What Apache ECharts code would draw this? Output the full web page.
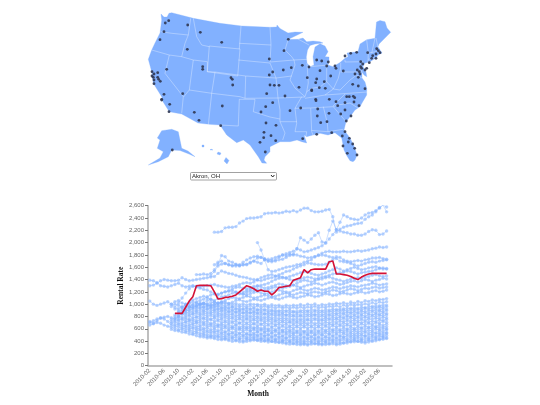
<!DOCTYPE html>
<html><head><meta charset="utf-8">
<style>html,body{margin:0;padding:0;background:#fff}#c{width:540px;height:405px}</style>
<script src="https://cdn.jsdelivr.net/npm/echarts@6/dist/echarts.min.js"></script>
</head><body><div id="c"></div>
<script>
const _ = null;
const months = ['2010-02','2010-03','2010-04','2010-05','2010-06','2010-07','2010-08','2010-09','2010-10','2010-11','2010-12','2011-01','2011-02','2011-03','2011-04','2011-05','2011-06','2011-07','2011-08','2011-09','2011-10','2011-11','2011-12','2012-01','2012-02','2012-03','2012-04','2012-05','2012-06','2012-07','2012-08','2012-09','2012-10','2012-11','2012-12','2013-01','2013-02','2013-03','2013-04','2013-05','2013-06','2013-07','2013-08','2013-09','2013-10','2013-11','2013-12','2014-01','2014-02','2014-03','2014-04','2014-05','2014-06','2014-07','2014-08','2014-09','2014-10','2014-11','2014-12','2015-01','2015-02','2015-03','2015-04','2015-05','2015-06','2015-07','2015-08','2015-09'];
const selected = 'Akron, OH';
const akron = [_,_,_,_,_,_,_,850,850,850,950,1050,1120,1300,1305,1305,1305,1300,1200,1085,1090,1110,1115,1130,1150,1200,1250,1300,1280,1250,1210,1230,1210,1210,1150,1200,1270,1280,1290,1300,1390,1410,1430,1560,1510,1560,1570,1570,1570,1570,1690,1700,1490,1490,1480,1470,1450,1420,1400,1440,1470,1490,1500,1500,1500,1500,1500];

const u01 = [_,_,_,_,_,_,_,_,_,_,_,_,_,_,_,_,_,_,2170,2170,2180,2240,2250,2250,2260,2320,2350,2390,2400,2400,2410,2420,2470,2480,2480,2490,2480,2490,2510,2500,2520,2500,2530,2560,2560,2520,2500,2500,2510,2530,2540,2420,2170,2220,2250,2270,2280,2300,2310,2320,2380,2420,2450,2500,2560,2610,2580];
const u02 = [_,_,_,_,_,_,_,_,_,_,_,_,_,1480,1480,1490,1480,1500,1560,1650,1790,1770,1700,1680,1650,1630,1640,1640,1670,1700,1680,1660,1720,1730,1710,1720,1760,1800,1790,1810,1800,1900,2080,2040,2000,2060,2120,2160,2010,2000,2200,2350,2210,2330,2450,2420,2390,2380,2370,2400,2450,2480,2490,2520,2570,2610,2500];
const u03 = [_,_,_,_,_,_,_,_,_,_,_,_,_,_,_,_,_,_,1640,1680,1700,1660,1640,1620,1640,1620,1640,1650,1680,1700,1750,1760,1740,1700,1740,1760,1780,1800,1820,1840,1860,1900,1880,1850,1860,1880,1900,1920,1950,1990,2060,2130,2210,2190,2170,2160,2140,2140,2120,2120,2140,2180,2210,2200,2130,2140,2190];
const u04 = [_,_,_,_,_,_,_,_,_,_,_,_,_,_,_,_,_,_,_,_,_,_,_,_,_,_,_,_,_,_,2000,1880,1720,1560,1530,1540,1560,1580,1600,1610,1620,1640,1650,1680,1700,1720,1770,1800,1830,1850,1860,1850,1850,1850,1860,1850,1850,1860,1870,1860,1870,1880,1900,1910,1930,1920,1930];
const u05 = [1300,1310,1340,1380,1400,1390,1380,1380,1390,1430,1400,1380,1390,1400,1410,1420,1430,1440,1450,1500,1540,1520,1500,1490,1470,1450,1440,1430,1410,1400,1390,1380,1400,1420,1430,1450,1480,1500,1530,1540,1570,1600,1620,1640,1670,1660,1650,1640,1640,1650,1680,1720,1770,1760,1720,1700,1690,1700,1710,1700,1720,1730,1750,1750,1760,1740,1730];
const u06 = [_,_,_,_,_,_,_,_,_,_,_,_,_,_,_,_,_,1460,1530,1620,1650,1660,1640,1630,1620,1640,1680,1720,1750,1770,1780,1760,1730,1700,1690,1700,1720,1730,1760,1790,1810,1800,1780,1770,1750,1760,1770,1790,1800,1790,1770,1760,1740,1700,1690,1680,1660,1640,1620,1640,1660,1680,1690,1680,1700,1710,1720];
const u07 = [1390,1380,1350,1300,1290,1280,1300,1320,1340,1300,1280,1290,1300,1290,1280,1290,1300,1310,1320,1300,1290,1280,1270,1290,1300,1320,1340,1350,1340,1360,1400,1430,1450,1470,1480,1460,1450,1440,1430,1450,1470,1490,1510,1530,1520,1500,1480,1470,1490,1510,1540,1560,1590,1570,1540,1560,1580,1600,1580,1560,1570,1590,1600,1610,1590,1570,1580];
const u08 = [_,_,_,_,_,_,_,_,_,_,_,_,_,_,_,_,_,_,_,_,_,_,_,_,_,_,1200,1220,1240,1260,1290,1310,1320,1340,1370,1400,1420,1430,1420,1400,1380,1390,1410,1430,1440,1430,1410,1420,1440,1450,1470,1490,1500,1510,1520,1540,1530,1510,1490,1510,1520,1530,1540,1560,1580,1590,1570];
const u09 = [1050,1000,980,1000,1020,1040,1000,950,1020,1100,1180,1250,1290,1280,1260,1240,1230,1200,1170,1150,1180,1200,1220,1250,1270,1280,1260,1250,1270,1290,1300,1280,1260,1270,1290,1310,1330,1320,1300,1290,1310,1340,1370,1390,1380,1360,1380,1400,1410,1430,1440,1420,1400,1390,1370,1390,1410,1420,1430,1420,1440,1450,1470,1480,1460,1450,1460];
const u10 = [720,690,730,770,790,800,780,760,800,850,900,950,1000,1040,1060,1080,1120,1150,1170,1160,1180,1200,1210,1220,1200,1180,1170,1190,1210,1220,1240,1230,1220,1240,1260,1280,1270,1260,1280,1300,1310,1290,1270,1290,1310,1320,1340,1330,1310,1330,1350,1360,1340,1320,1330,1350,1370,1380,1360,1380,1400,1390,1370,1390,1400,1420,1410];
const m01 = [_,_,_,_,_,_,1000,1040,1060,1020,1000,1030,1070,1090,1110,1130,1100,1080,1060,1090,1120,1130,1150,1180,1190,1170,1160,1150,1170,1190,1200,1180,1170,1180,1200,1220,1230,1210,1200,1190,1220,1240,1250,1230,1220,1240,1260,1250,1230,1240,1260,1280,1270,1250,1270,1280,1300,1290,1280,1300,1310,1320,1340,1330,1310,1320,1330];
const m02 = [_,_,_,_,_,_,960,1000,980,950,1000,1010,1040,1020,1000,1020,1060,1080,1040,1010,1030,1060,1090,1110,1100,1090,1110,1130,1120,1100,1110,1130,1150,1140,1120,1130,1150,1170,1180,1160,1150,1170,1190,1180,1170,1190,1200,1190,1180,1200,1210,1230,1220,1200,1210,1230,1250,1240,1220,1240,1260,1250,1270,1280,1260,1270,1280];
const m03 = [_,_,_,_,_,_,_,920,930,960,980,960,940,970,1000,1010,990,970,990,1020,1040,1030,1010,1030,1060,1070,1050,1040,1060,1080,1070,1060,1080,1100,1110,1090,1080,1100,1120,1130,1110,1100,1120,1130,1150,1140,1120,1130,1150,1170,1160,1140,1150,1170,1180,1170,1160,1180,1190,1200,1180,1190,1210,1220,1200,1210,1230];
const b01 = [_,_,_,_,_,_,590,570,565,545,540,515,505,485,470,465,450,455,440,425,420,425,410,395,405,390,385,395,405,415,410,395,400,385,395,380,375,370,355,350,355,345,340,345,335,350,355,345,340,345,350,355,340,350,365,370,385,390,395,380,370,385,395,405,420,430,440];
const b02 = [660,680,700,690,660,640,625,605,585,585,565,555,525,525,500,495,475,475,465,465,445,445,435,435,415,425,405,425,425,435,415,425,405,415,395,405,385,395,375,385,365,375,365,365,355,375,365,365,355,375,365,385,365,375,375,395,395,415,395,405,395,415,415,435,435,455,455];
const b03 = [700,730,760,780,760,720,660,640,630,610,600,585,560,550,530,520,505,495,495,480,480,470,470,455,460,440,450,445,460,455,450,435,440,425,435,420,420,405,415,395,405,395,395,385,395,395,405,385,395,395,405,405,400,405,420,415,430,435,435,425,435,435,455,455,475,475,490];
const b04 = [_,_,_,_,_,_,690,665,665,640,635,610,605,580,575,550,545,530,535,510,515,500,505,480,495,470,485,470,495,480,485,460,475,450,465,440,455,430,445,420,435,420,425,410,435,420,435,410,425,420,435,430,435,430,455,440,465,460,465,450,475,460,485,480,505,500,525];
const b05 = [_,_,_,_,_,_,715,705,690,670,660,640,630,610,600,585,570,560,560,550,540,535,520,525,510,515,500,510,510,510,500,500,490,495,480,485,470,470,460,465,460,450,455,450,450,460,450,450,450,460,460,470,460,470,470,480,490,490,490,490,490,500,510,520,530,530,540];
const b06 = [_,_,_,_,_,_,750,730,730,700,700,670,665,640,635,610,610,590,595,575,580,555,565,545,550,530,545,525,555,530,545,520,535,510,525,500,515,490,505,490,495,480,495,470,495,480,495,470,495,480,505,490,505,490,515,510,525,520,525,520,535,530,545,540,565,560,585];
const b07 = [_,_,_,_,_,_,_,765,750,745,720,715,690,690,660,660,640,640,620,630,610,610,590,600,580,585,570,580,570,580,560,570,550,560,540,550,530,540,530,530,520,530,510,520,510,530,510,520,510,530,520,540,530,540,540,550,550,560,550,560,560,570,570,590,590,600,600];
const b08 = [_,_,_,_,_,_,_,795,785,765,755,740,725,710,700,685,675,670,655,650,645,635,625,620,615,605,605,610,605,600,595,590,585,580,575,570,565,565,555,560,545,550,545,550,545,550,545,550,545,560,555,570,565,570,575,580,585,590,585,600,595,610,605,620,625,630,635];
const b09 = [_,_,_,_,_,_,_,825,815,790,785,760,755,735,735,710,715,690,695,670,675,660,665,640,655,630,635,630,635,620,625,610,615,600,615,590,605,580,595,580,585,570,585,560,585,570,585,570,585,580,595,590,605,590,615,600,625,610,625,620,635,630,645,640,665,660,675];
const b10 = [_,_,_,_,_,_,_,_,850,835,815,805,785,780,765,760,745,745,725,725,705,705,695,695,675,685,665,675,665,675,655,665,645,655,635,645,625,635,625,625,615,625,615,625,615,625,615,625,615,635,625,645,635,645,645,655,655,665,655,675,665,685,675,695,695,715,705];
const b11 = [_,_,_,_,_,_,_,_,875,855,850,830,830,800,800,780,780,760,770,750,750,730,730,720,720,700,710,700,710,690,700,680,690,680,680,670,670,660,670,650,660,650,660,650,660,650,660,650,660,660,670,670,680,670,690,680,700,690,700,700,710,710,720,720,740,740,750];
const b12 = [_,_,_,_,_,_,_,_,895,885,870,865,850,845,830,825,810,810,795,795,780,775,765,765,750,755,740,750,740,740,730,730,720,725,710,715,700,705,700,700,690,695,690,690,690,695,690,690,690,700,700,710,710,715,720,725,730,735,730,745,740,755,760,765,770,785,780];
const b13 = [_,_,_,_,_,_,_,_,_,915,900,895,875,875,855,855,845,840,825,825,815,805,800,790,790,780,780,770,780,760,770,755,760,750,750,740,740,730,740,720,730,720,730,720,740,725,745,725,735,735,745,745,755,745,765,755,775,765,775,775,785,785,805,795,815,815,825];
const b14 = [_,_,_,_,_,_,_,_,_,940,930,915,910,895,890,885,875,865,865,850,845,835,835,825,820,815,810,805,810,795,800,785,790,785,780,775,770,765,770,755,760,755,760,755,760,760,770,755,760,770,770,780,780,785,790,795,800,805,800,815,810,825,830,835,840,855,850];
const b15 = [_,_,_,_,_,_,_,_,_,_,960,945,940,925,925,905,915,895,895,880,885,865,875,850,865,845,855,835,855,830,845,820,835,815,825,810,815,800,815,795,805,790,805,790,805,800,815,790,805,800,815,810,825,810,835,820,845,830,845,840,855,850,875,860,885,880,895];
const b16 = [_,_,_,_,_,_,_,_,_,_,_,975,965,955,945,945,930,930,915,915,905,900,885,890,875,880,865,870,865,865,860,855,850,850,845,840,840,835,830,830,825,825,825,825,835,830,835,825,830,835,840,845,850,850,860,860,870,870,870,880,880,890,900,900,910,920,920];
const b17 = [_,_,_,_,_,_,_,_,_,_,_,_,985,975,975,955,960,945,945,930,935,920,925,905,915,900,910,890,910,885,900,880,895,875,885,870,875,860,875,860,870,855,870,860,875,865,880,860,870,870,880,880,890,885,900,890,910,900,910,910,925,920,940,935,950,950,960];
const b18 = [_,_,_,_,_,_,_,_,_,_,_,_,_,1005,995,995,980,975,965,965,950,950,940,945,935,925,925,925,925,925,915,915,915,905,905,895,895,895,895,895,885,885,895,895,895,905,905,895,895,905,905,915,915,915,925,925,935,935,935,945,945,955,965,965,975,985,985];
const b19 = [_,_,_,_,_,_,_,_,_,_,_,_,_,_,1020,1010,1010,995,1000,980,990,970,980,960,975,960,970,950,975,950,970,950,965,945,955,935,955,935,950,930,950,935,955,935,955,945,965,935,955,945,965,955,975,955,985,965,995,975,995,985,1005,995,1025,1005,1035,1025,1040];
const b20 = [_,_,_,_,_,_,_,_,_,_,_,_,_,_,_,_,_,1030,1030,1015,1020,1005,1010,995,1010,990,1005,985,1005,995,995,985,1000,975,990,975,985,965,985,970,985,975,995,975,1000,985,1005,975,995,985,1005,995,1015,1005,1025,1005,1035,1015,1045,1025,1055,1045,1070,1055,1075,1075,1090];
const lightSeries = [u01,u02,u03,u04,u05,u06,u07,u08,u09,u10,m01,m02,m03,b01,b02,b03,b04,b05,b06,b07,b08,b09,b10,b11,b12,b13,b14,b15,b16,b17,b18,b19,b20];

const mainland = [[161,14],[164,17],[167,17],[169,13.3],[171.7,12.7],[193.3,18.3],[220,23.3],[241.7,26],[270,27.3],[276.7,27],[277,25],[280,28.5],[288,33],[295,32],[303,32.3],[288,39.5],[298,39.3],[303,38],[306.7,41.7],[313,41],[320,41.7],[323,43],[315,44],[310,45.5],[307.5,50],[306.3,57],[307,63],[310,66.7],[314,65],[313,56.7],[315,47],[320,43.8],[325,46],[328,51.7],[325,56.7],[329,57],[329,61],[328,65],[333,66.7],[340,62.5],[345,58.3],[348,56.7],[347,53],[351,52.5],[358,51.7],[360,44],[366.7,39.7],[375,38.3],[376.5,22],[380,20.5],[385,21.7],[387,28],[390.7,32.3],[383,40],[379,44],[378,46.7],[380,50],[382,53],[378,55],[376,58],[370,61.7],[365,63],[363,66.7],[366,72],[366.7,76.7],[364,75],[362,72],[362,78],[365,82],[366.7,88.3],[366.7,95],[362,103],[360,106.7],[355,110],[350,116.7],[346,121.7],[344,130],[350,138],[354,146],[357,155],[355,160],[353,161.7],[350,160.7],[347,156],[344,150],[341.7,138],[335,132.7],[328,135],[320,133.3],[313,135],[306.7,136.7],[304,135],[306.7,143],[301.7,141.7],[297,140],[290,141.7],[280,141.7],[270,146.7],[270,151.7],[265,156.7],[264,160],[266.7,163.3],[262,163],[258.3,156.7],[250,145],[243.3,140],[236.7,142.7],[226.7,135],[220,125],[209,124.3],[198,123],[181.7,114],[169.3,111.7],[163,101.7],[161.7,96.7],[153.3,83.3],[151.7,71.7],[148.3,59.3],[151.7,50],[155,43],[160,33],[161.7,20]];
const alaska = [[161.7,130.7],[171.7,129.3],[178.3,131.7],[181.7,148.3],[188,151],[195,156.7],[189,154],[180,150.5],[171.7,150],[168.3,156.7],[158.3,161.7],[148.3,165],[160,158],[163.3,151.7],[157.3,148.3],[160,140],[157.3,138]];
const hawaii = [[226,157.5],[229,160.5],[227,164],[224,161]];
const hawaiiSmall = [[218,152],[221,153],[220,155],[217,154]];
const oahu = [[211,149],[213,150],[212,151],[210,150]];
const kauai = [[202,145],[204,145],[204,147],[202,147]];

const borders = [
 [[160.7,31.7],[171.7,33.3],[188.3,35]],[[190.7,18.3],[188.3,35],[185,43.3],[181.7,56.7]],
 [[151.7,50],[169.3,55],[181.7,56.7],[193.3,60],[207.3,61.7]],[[169.3,55],[165,73.3],[183.3,96.7],[181.7,113.3]],
 [[193.3,60],[189.3,90],[183.5,97]],[[189.3,90],[211.7,93.3],[240,96.7],[245,98.3],[278,98],[305,97]],
 [[193.3,18.3],[196.7,36.7],[201.7,45],[209.3,46.7]],[[209.3,46],[240,49],[237.7,76],[207.3,71.7],[209.3,46]],
 [[207.3,61.7],[207.3,71.7],[215,72],[211.7,93.3],[208.3,125]],[[215,72],[245.7,76],[245,98.3]],
 [[241,26],[239.3,49]],[[239.3,43.3],[271,45]],[[238.3,60],[270,63],[276,78]],[[245.7,76],[276,78],[278,98]],
 [[270,27.3],[271,45],[270,62],[294,60]],[[276,78],[291.7,76]],[[288,40],[285,50],[291.7,56.7],[294,60],[295,65],[291.7,75],[290,80],[295,88],[305,96.7]],
 [[294,60],[307.3,59.3]],[[298,39],[309,45]],[[307,63],[308.3,83],[306.7,91.7],[305,96.7]],[[310,66.7],[328,65]],
 [[326.7,65],[326.7,81.7],[320,87],[311.7,88.3],[306.7,91.7]],[[326.7,81.7],[333.3,89],[338.3,78.3],[340.7,68.3],[340.7,63]],
 [[345,60],[345,62],[363.3,61.7]],[[340.7,72],[362,72]],[[363,62],[361,68],[362,72]],[[333.3,89],[340,90],[350,80],[356.7,75],[362,78]],
 [[333.3,89],[325,95],[305,98.3]],[[325,95],[367,92]],[[295,108.3],[310,108],[333.3,106.7],[338,105],[350,103],[358,108]],
 [[345,94],[333,106]],[[301.7,96.7],[295,108.3],[296.7,123.3],[295,131.7],[306.7,131.7],[306,136]],[[280,121.7],[296.7,121.7]],
 [[278,98],[280,110],[280,121.7],[285,133],[282.7,140]],[[310.7,108.3],[311.7,131.7],[313,135]],[[323.3,106.7],[327.3,123],[328,131.7]],
 [[311.7,130.5],[328,131.7],[343.3,129.3]],[[333.3,106.7],[346,121.7]],[[239.3,99.3],[255,99.3],[253.3,111.7],[270,117],[280,119]],
 [[239.3,99.3],[238.3,126],[220,125]],[[366.7,40],[368.3,53],[368,62]],[[375,38.3],[371.7,53.3]],[[376,38],[378,48]],[[368,53],[380,51]],[[368.3,59.3],[376,57.7]],[[373,58],[373,62]]
];

const metroPoints = [[168.7,20.7],[165.3,23],[187.7,25],[200.3,32.3],[164,31.7],[160,39.7],[221.7,42.3],[187.3,49.3],[269.3,59],[202.7,66.7],[202.7,69.3],[166.7,69.3],[152,71.7],[157.7,72.7],[154,74],[152,76],[153.3,77.3],[157.7,77.3],[158.7,79.3],[154,80],[160.3,81.3],[154,83.7],[231,77.7],[232.3,79.3],[232.7,85],[269.3,75],[164,94.3],[182.7,93.7],[266.7,93.7],[161.7,99.3],
[288.3,39.3],[284,50.7],[316.7,60],[321.7,61],[328.3,62],[326.7,66],[335,66],[336,68.3],[345,56],[350.7,53.3],[356.7,52.3],[367.7,52.7],[376.7,48.7],[378.3,50.7],[380,52.7],[376,54],[372.7,55.7],[371.7,58.3],[376,58.3],[369.3,62.7],[360.7,61.7],[362.7,64],[360.7,66.7],[366.7,68.3],[365,70],[361.7,68.3],[357.3,70],[359.3,71.7],[355,74],[360,74],[358.3,77.3],[343.3,71],[302.3,65.3],[309,67],[291.3,67.7],[283.3,70],[272.7,72],[320,70.7],[330.7,76],[307.3,77.7],[316.7,79],[315.7,82.7],[324.3,81.7],[299,87.3],[319.3,87.7],[325.3,88.3],[311.7,90],[352.7,84.3],[358.3,86],[365,88.7],[270,85],[274.3,85.3],[279,85.3],[285,96],[346.7,96.7],[349.3,96.7],[353.3,96.3],[354.7,97.7],[315.7,99.3],[329.3,99.3],
[161.7,100],[169.7,104.3],[169,111.7],[194.3,112.3],[199,120.3],[222.3,106],[220.7,125.7],[265.7,106.7],[261,112],[266,123],[264,132.3],[263.7,137.7],[260,142.3],[265.3,152],[172.3,150],
[272.7,102.7],[290,110.7],[276,125.3],[271,135.7],[275.7,140.7],[302.7,138.7],[300.7,108],[316,100.7],[336,101.7],[345,102.7],[354,102],[359,105.7],[337.7,105.7],[345,110],[340.7,114],[351,116],[346.3,121],[317.7,109],[317.3,116],[329,113.3],[320.7,122.7],[327,121.7],[316.7,134.3],[331.7,132.7],[345,131.7],[342.3,136],[349.3,138.3],[348.3,142],[352.7,144],[343,146],[354.7,148.3],[347.3,153.3],[357,155],[311.7,90.7]];

const flip = a => a.map(p => [p[0], -p[1]]);
const land = [mainland, alaska, hawaii, hawaiiSmall, oahu, kauai];
echarts.registerMap('usa', {type:'FeatureCollection', features: land.map((r,i)=>({type:'Feature',properties:{name:'r'+i},geometry:{type:'Polygon',coordinates:[flip(r)]}}))});

const chart = echarts.init(document.getElementById('c'), null, {renderer:'canvas'});
const blue = '#82b1ff';
const series = [
 {type:'lines',coordinateSystem:'geo',geoIndex:0,polyline:true,silent:true,z:3,lineStyle:{color:'#ffffff',width:0.5,opacity:0.65},data:borders.map(b=>({coords:flip(b)}))},
 {type:'scatter',coordinateSystem:'geo',geoIndex:0,silent:true,z:4,symbolSize:2.8,itemStyle:{color:'#2f3650',opacity:0.9},data:flip(metroPoints)}
];
lightSeries.forEach(d=>series.push({type:'line',data:d,xAxisIndex:0,yAxisIndex:0,silent:true,z:2,symbol:'circle',symbolSize:3.4,showSymbol:true,showAllSymbol:true,
  lineStyle:{color:blue,width:1,opacity:0.4},itemStyle:{color:blue,opacity:0.55}}));
series.push({type:'line',name:selected,data:akron,silent:true,z:5,symbol:'none',lineStyle:{color:'#d41236',width:1.6}});

chart.setOption({
 animation:false,backgroundColor:'#fff',
 geo:{map:'usa',roam:false,silent:true,aspectScale:1,left:140,top:0,width:260,height:170,boundingCoords:[[140,0],[400,-170]],
   label:{show:false},itemStyle:{areaColor:blue,borderColor:blue,borderWidth:0.3},emphasis:{disabled:true}},
 grid:{left:148,top:205.7,width:244,height:160,containLabel:false},
 xAxis:{type:'category',data:months,boundaryGap:true,
   axisLine:{lineStyle:{color:'#aaaaaa',width:1.5}},
   axisTick:{alignWithLabel:true,interval:3,length:3,lineStyle:{color:'#777'}},
   axisLabel:{interval:3,rotate:45,fontSize:6,color:'#666',margin:4,fontFamily:'Liberation Sans'},
   name:'Month',nameLocation:'middle',nameGap:19,nameTextStyle:{fontFamily:'Liberation Serif',fontWeight:'bold',fontSize:7.5,color:'#111',padding:[0,24,0,0]}},
 yAxis:{type:'value',min:0,max:2600,interval:200,splitLine:{show:false},
   axisLine:{show:true,lineStyle:{color:'#aaaaaa',width:1.5}},
   axisTick:{show:true,length:3,lineStyle:{color:'#777'}},
   axisLabel:{fontSize:6,color:'#666',margin:4,fontFamily:'Liberation Sans',formatter:v=>v.toLocaleString('en-US')},
   name:'Rental Rate',nameLocation:'middle',nameGap:15,nameRotate:90,nameTextStyle:{fontFamily:'Liberation Serif',fontWeight:'bold',fontSize:7.5,color:'#111'}},
 graphic:[
  {type:'rect',silent:true,shape:{x:190.5,y:172.5,width:86,height:7.5,r:1},style:{fill:'#fff',stroke:'#8a8a8a',lineWidth:0.8},z:10},
  {type:'text',silent:true,x:192,y:173,z:11,style:{text:selected,fontSize:6,fill:'#222',fontFamily:'Liberation Sans'}},
  {type:'polyline',silent:true,shape:{points:[[271,175],[272.7,177],[274.4,175]]},style:{stroke:'#222',lineWidth:1,fill:'none'},z:11}
 ],
 series
});
</script></body></html>
